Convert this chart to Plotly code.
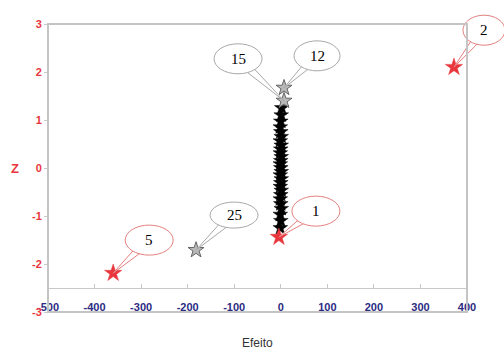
import plotly.graph_objects as go

# ---------------- data ----------------
X_RANGE = [-500, 400]
Y_RANGE = [-3, 3]
x_ticks = [-500, -400, -300, -200, -100, 0, 100, 200, 300, 400]
y_ticks = [-3, -2, -1, 0, 1, 2, 3]

# non-significant effects (black column)
efeito_col = [-1, 0, -1, 1, 0, -1, 0, 1, -1, 0, 1, -1, 1, 0, -1, 0, 1, -1, 0, 1, -1, 1, 0, -1, 0, 1, 2]
z_col = [-1.25, -1.10, -0.97, -0.85, -0.75, -0.65, -0.56, -0.47, -0.39, -0.31, -0.23,
         -0.15, -0.08, 0.0, 0.08, 0.15, 0.23, 0.31, 0.39, 0.47, 0.56, 0.65, 0.75,
         0.85, 0.97, 1.10, 1.25]

# labelled effects
rot_red = ["5", "1", "2"]
efeito_red = [-360, -4, 372]
z_red = [-2.19, -1.44, 2.10]

rot_grey = ["25", "15", "12"]
efeito_grey = [-182, 7, 7]
z_grey = [-1.71, 1.40, 1.67]

# ---------------- styling ----------------
RED = "#e8363c"
RED_LINE = "#e58080"
GREY_LINE = "#a8a8a8"
NAVY = "#2b2b82"

# bubble offsets (pixels, dx right, dy up) and radii for callouts
bubble = {
    "5": (36, 33, 24, 15),
    "1": (37, 26, 24, 15),
    "2": (30, 37, 21, 15),
    "25": (38, 35, 24, 13),
    "15": (-46, 42, 24, 15),
    "12": (33, 32, 23, 15),
}

fig = go.Figure()

fig.add_trace(go.Scatter(
    x=efeito_col, y=z_col, mode="markers",
    marker=dict(symbol="star", size=11, color="black", line=dict(color="black", width=0.5)),
    hoverinfo="skip", showlegend=False))

fig.add_trace(go.Scatter(
    x=efeito_grey, y=z_grey, mode="markers",
    marker=dict(symbol="star", size=12, color="#b8b8b8", line=dict(color="#666666", width=1)),
    hoverinfo="skip", showlegend=False))

fig.add_trace(go.Scatter(
    x=efeito_red, y=z_red, mode="markers",
    marker=dict(symbol="star", size=13, color=RED, line=dict(color=RED, width=0.5)),
    hoverinfo="skip", showlegend=False))


def px(v):
    return (v - X_RANGE[0]) / (X_RANGE[1] - X_RANGE[0])


def py(v):
    return (v - Y_RANGE[0]) / (Y_RANGE[1] - Y_RANGE[0])


shapes = []
annotations = []
for labels, xs, ys, col in [(rot_red, efeito_red, z_red, RED_LINE),
                            (rot_grey, efeito_grey, z_grey, GREY_LINE)]:
    for lab, xv, yv in zip(labels, xs, ys):
        dx, dy, rx, ry = bubble[lab]
        ax, ay = px(xv), py(yv)
        # tail wedge
        L = (dx ** 2 + dy ** 2) ** 0.5
        nx, ny = -dy / L, dx / L
        w = 5
        path = "M 0,0 L {:.1f},{:.1f} L {:.1f},{:.1f} Z".format(
            dx + nx * w, dy + ny * w, dx - nx * w, dy - ny * w)
        shapes.append(dict(type="path", xref="paper", yref="paper",
                           xsizemode="pixel", ysizemode="pixel",
                           xanchor=ax, yanchor=ay, path=path,
                           line=dict(color=col, width=1), fillcolor="white",
                           layer="above"))
        shapes.append(dict(type="circle", xref="paper", yref="paper",
                           xsizemode="pixel", ysizemode="pixel",
                           xanchor=ax, yanchor=ay,
                           x0=dx - rx, x1=dx + rx, y0=dy - ry, y1=dy + ry,
                           line=dict(color=col, width=1), fillcolor="white",
                           layer="above"))
        annotations.append(dict(x=xv, y=yv, xref="x", yref="y", text=lab,
                                showarrow=False, xshift=dx, yshift=dy,
                                font=dict(family="Liberation Serif", size=15, color="black")))

# frame
shapes.append(dict(type="rect", xref="paper", yref="paper", x0=0, x1=1, y0=0, y1=1,
                   line=dict(color="#c4c4c4", width=2), layer="above"))

annotations.append(dict(x=0.5, y=-0.108, xref="paper", yref="paper", text="Efeito",
                        showarrow=False, xanchor="center", yanchor="middle",
                        font=dict(family="Liberation Sans", size=12, color="#333333")))
annotations.append(dict(x=-0.079, y=0.5, xref="paper", yref="paper", text="Z",
                        showarrow=False, xanchor="center", yanchor="middle",
                        font=dict(family="Liberation Sans", size=13, color=RED, weight="bold")))

fig.update_layout(
    width=504, height=352,
    margin=dict(l=48, r=37, t=24, b=40),
    plot_bgcolor="white", paper_bgcolor="white",
    shapes=shapes, annotations=annotations,
    xaxis=dict(range=X_RANGE, tickvals=x_ticks, ticktext=[str(v) for v in x_ticks],
               showgrid=False, zeroline=False,
               anchor="free", position=py(-2.5),
               showline=True, linecolor="#c8c8c8", linewidth=1,
               ticks="inside", ticklen=4, tickcolor="#c8c8c8",
               ticklabelstandoff=9,
               tickfont=dict(family="Liberation Sans", size=11, color=NAVY, weight="bold")),
    yaxis=dict(range=Y_RANGE, tickvals=y_ticks, ticktext=[str(v) for v in y_ticks],
               showgrid=False, zeroline=False, showline=False,
               ticks="outside", ticklen=3, tickcolor="#c8c8c8",
               tickfont=dict(family="Liberation Sans", size=11, color=RED, weight="bold")),
)

fig.write_html("out.html", config={"displayModeBar": False},
               post_script="document.body.style.margin='0px';document.body.style.overflow='hidden';")
